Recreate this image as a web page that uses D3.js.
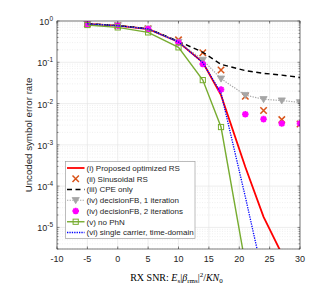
<!DOCTYPE html>
<html><head><meta charset="utf-8">
<script src="https://cdn.jsdelivr.net/npm/d3@7"></script>
<style>html,body{margin:0;padding:0;background:#fff;}svg{display:block;}</style>
</head><body>
<script>
const snr = [-5, 0, 5, 10, 14, 17, 21, 24, 27, 30];
const serProposed   = [0.85, 0.77, 0.64, 0.31, 0.10, 0.016, 2.9e-4, 1.8e-5, 2.3e-6, null];
const serSinusoidal = [0.86, 0.78, 0.65, 0.35, 0.17, 0.065, 0.015, 0.0068, 0.0041, 0.0032];
const serCPE        = [0.86, 0.78, 0.65, 0.32, 0.175, 0.089, 0.063, 0.054, 0.049, 0.043];
const serFB1        = [0.86, 0.78, 0.65, 0.31, 0.114, 0.040, 0.016, 0.0127, 0.0118, 0.0107];
const serFB2        = [0.85, 0.77, 0.64, 0.30, 0.091, 0.022, 0.0055, 0.0042, 0.0033, 0.0033];
const serNoPhN      = [0.80, 0.70, 0.53, 0.23, 0.037, 0.0027, 1.3e-6, null, null, null];
const serSC         = [0.85, 0.77, 0.64, 0.31, 0.098, 0.018, 5.5e-5, 6e-7, null, null];
const xTicks = [-10, -5, 0, 5, 10, 15, 20, 25, 30];
const yExps = [0, -1, -2, -3, -4, -5];
const legendLabels = ["(i) Proposed optimized RS", "(ii) Sinusoidal RS", "(iii) CPE only",
  "(iv) decisionFB, 1 iteration", "(iv) decisionFB, 2 iterations", "(v) no PhN",
  "(vi) single carrier, time-domain"];

const W = 332, H = 291;
const L = 57, R = 300, T = 21, B = 249;
const svg = d3.select("body").append("svg").attr("width", W).attr("height", H);
const x = d3.scaleLinear().domain([-10, 30]).range([L, R]);
const y = d3.scaleLog().domain([3e-6, 1]).range([B, T]);
const axisCol = "#262626";

// grid
const g = svg.append("g");
xTicks.forEach(t => g.append("line").attr("x1", x(t)).attr("x2", x(t)).attr("y1", T).attr("y2", B)
  .attr("stroke", "#e3e3e3").attr("stroke-width", 0.6));
for (let e = -6; e <= 0; e++) {
  for (let m = 1; m <= 9; m++) {
    const v = m * Math.pow(10, e);
    if (v < 3e-6 || v > 1) continue;
    const yy = y(v);
    if (m === 1) {
      g.append("line").attr("x1", L).attr("x2", R).attr("y1", yy).attr("y2", yy)
        .attr("stroke", "#e3e3e3").attr("stroke-width", 0.6);
    } else {
      g.append("line").attr("x1", L).attr("x2", R).attr("y1", yy).attr("y2", yy)
        .attr("stroke", "#e6e6e6").attr("stroke-width", 0.6).attr("stroke-dasharray", "1,1.5");
    }
  }
}

// clip
svg.append("clipPath").attr("id", "clip").append("rect")
  .attr("x", L).attr("y", T).attr("width", R - L).attr("height", B - T);
const plot = svg.append("g").attr("clip-path", "url(#clip)");

function pts(arr) { return snr.map((s, i) => [s, arr[i]]).filter(d => d[1] != null); }
const line = d3.line().x(d => x(d[0])).y(d => y(d[1]));

const series = [
  {data: serProposed, color: "#ff0000", lw: 1.8, dash: null, marker: null},
  {data: serSinusoidal, color: "#D95319", lw: 0, dash: null, marker: "x"},
  {data: serCPE, color: "#000000", lw: 1.4, dash: "5,3.5", marker: null},
  {data: serFB1, color: "#a6a6a6", lw: 1.2, dash: "1.3,1.3", marker: "tri"},
  {data: serFB2, color: "#ff00ff", lw: 0, dash: null, marker: "star"},
  {data: serNoPhN, color: "#77AC30", lw: 1.4, dash: null, marker: "sq"},
  {data: serSC, color: "#0000ff", lw: 1.3, dash: "1.3,1.1", marker: null}
];

function drawMarker(sel, type, cx, cy, color) {
  if (type === "x") {
    const s = 3.2;
    sel.append("path").attr("d", `M${cx-s},${cy-s}L${cx+s},${cy+s}M${cx-s},${cy+s}L${cx+s},${cy-s}`)
      .attr("stroke", color).attr("stroke-width", 1.5).attr("fill", "none");
  } else if (type === "tri") {
    const s = 3.6;
    sel.append("path").attr("d", `M${cx-s},${cy-s*0.75}L${cx+s},${cy-s*0.75}L${cx},${cy+s*0.95}Z`)
      .attr("stroke", color).attr("fill", color).attr("stroke-width", 0.8);
  } else if (type === "star") {
    const s = 3.3, d2 = s * 0.72;
    sel.append("path").attr("d", `M${cx-s},${cy}L${cx+s},${cy}M${cx},${cy-s}L${cx},${cy+s}M${cx-d2},${cy-d2}L${cx+d2},${cy+d2}M${cx-d2},${cy+d2}L${cx+d2},${cy-d2}`)
      .attr("stroke", color).attr("stroke-width", 1.9).attr("fill", "none");
  } else if (type === "sq") {
    const s = 2.6;
    sel.append("rect").attr("x", cx - s).attr("y", cy - s).attr("width", 2 * s).attr("height", 2 * s)
      .attr("stroke", color).attr("stroke-width", 1).attr("fill", "none");
  }
}

series.forEach(s => {
  const p = pts(s.data);
  if (s.lw > 0) {
    plot.append("path").datum(p).attr("d", line).attr("fill", "none")
      .attr("stroke", s.color).attr("stroke-width", s.lw)
      .attr("stroke-dasharray", s.dash);
  }
  if (s.marker) {
    p.forEach(d => {
      if (d[1] >= 3e-6) drawMarker(plot, s.marker, x(d[0]), y(d[1]), s.color);
    });
  }
});

// axes box and ticks
const ax = svg.append("g");
ax.append("rect").attr("x", L).attr("y", T).attr("width", R - L).attr("height", B - T)
  .attr("fill", "none").attr("stroke", axisCol).attr("stroke-width", 0.6);
xTicks.forEach(t => {
  ax.append("line").attr("x1", x(t)).attr("x2", x(t)).attr("y1", B).attr("y2", B - 2.5).attr("stroke", axisCol).attr("stroke-width", 0.6);
  ax.append("line").attr("x1", x(t)).attr("x2", x(t)).attr("y1", T).attr("y2", T + 2.5).attr("stroke", axisCol).attr("stroke-width", 0.6);
  ax.append("text").attr("x", x(t)).attr("y", B + 13).attr("text-anchor", "middle")
    .attr("font-family", "Liberation Sans, Arial, sans-serif").attr("font-size", 9).attr("fill", axisCol).text(t);
});
for (let e = -6; e <= 0; e++) {
  for (let m = 1; m <= 9; m++) {
    const v = m * Math.pow(10, e);
    if (v < 3e-6 || v > 1) continue;
    const len = m === 1 ? 2.5 : 1.5;
    ax.append("line").attr("x1", L).attr("x2", L + len).attr("y1", y(v)).attr("y2", y(v)).attr("stroke", axisCol).attr("stroke-width", 0.5);
    ax.append("line").attr("x1", R).attr("x2", R - len).attr("y1", y(v)).attr("y2", y(v)).attr("stroke", axisCol).attr("stroke-width", 0.5);
  }
}
yExps.forEach(e => {
  const t = ax.append("text").attr("x", 53).attr("y", y(Math.pow(10, e)) + 4).attr("text-anchor", "end")
    .attr("font-family", "Liberation Sans, Arial, sans-serif").attr("font-size", 9).attr("fill", axisCol);
  t.append("tspan").text("10");
  t.append("tspan").attr("dy", -4).attr("font-size", 6.5).text(e === 0 ? "0" : "-" + (-e));
});

// y label
svg.append("text").attr("transform", `translate(32,${(T + B) / 2}) rotate(-90)`)
  .attr("text-anchor", "middle").attr("font-family", "Liberation Sans, Arial, sans-serif")
  .attr("font-size", 9.7).attr("fill", axisCol).text("Uncoded symbol error rate");

// x label
const xl = svg.append("text").attr("x", 176.5).attr("y", 281).attr("text-anchor", "middle")
  .attr("font-family", "Liberation Serif, Times New Roman, serif").attr("font-size", 10).attr("fill", "#000");
xl.append("tspan").text("RX SNR: ");
xl.append("tspan").attr("font-style", "italic").text("E");
xl.append("tspan").attr("font-size", 7).attr("dy", 2).text("s");
xl.append("tspan").attr("dy", -2).text("|");
xl.append("tspan").attr("font-style", "italic").text("β");
xl.append("tspan").attr("font-size", 7).attr("dy", 2).text("rms");
xl.append("tspan").attr("dy", -2).text("|");
xl.append("tspan").attr("font-size", 7).attr("dy", -4).text("2");
xl.append("tspan").attr("dy", 4).text("/");
xl.append("tspan").attr("font-style", "italic").text("KN");
xl.append("tspan").attr("font-size", 7).attr("dy", 2).text("0");

// legend
const lg = svg.append("g");
lg.append("rect").attr("x", 65.5).attr("y", 161.5).attr("width", 129.5).attr("height", 77)
  .attr("fill", "#fff").attr("stroke", "#a0a0a0").attr("stroke-width", 0.7);
series.forEach((s, i) => {
  const cy = 168 + i * 10.75;
  if (s.lw > 0) {
    lg.append("line").attr("x1", 67).attr("x2", 84.5).attr("y1", cy).attr("y2", cy)
      .attr("stroke", s.color).attr("stroke-width", s.lw).attr("stroke-dasharray", s.dash);
  }
  if (s.marker) drawMarker(lg, s.marker, 75.7, cy, s.color);
  lg.append("text").attr("x", 86.5).attr("y", cy + 2.9)
    .attr("font-family", "Liberation Sans, Arial, sans-serif").attr("font-size", 8).attr("fill", axisCol)
    .text(legendLabels[i]);
});
</script>
</body></html>
